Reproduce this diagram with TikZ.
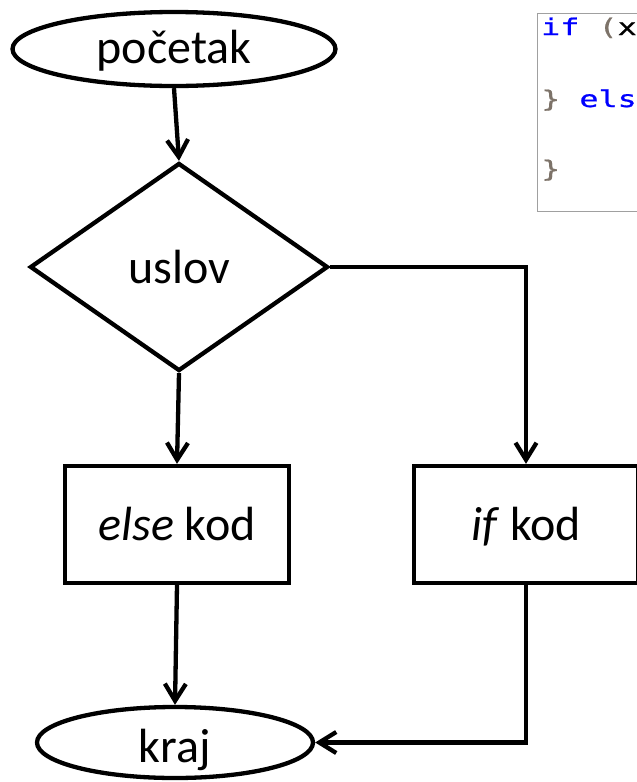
\documentclass[tikz,border=0pt]{standalone}
\usepackage{fontspec}
\setmainfont{Carlito}
\newfontfamily\codefont[FakeStretch=1.38,FakeBold=0.8]{DejaVu Sans Mono}
\usetikzlibrary{shapes.geometric,arrows.meta}
\definecolor{kwblue}{RGB}{0,0,255}
\definecolor{punct}{RGB}{125,115,105}
\definecolor{framegray}{RGB}{160,160,160}
\begin{document}
\begin{tikzpicture}[x=1pt,y=-1pt,
  every node/.style={inner sep=0pt},
  flow/.style={line width=4.3pt,draw=black},
  termnode/.style={flow,ellipse,font=\fontsize{48}{58}\selectfont,text depth=0pt},
  decnode/.style={flow,diamond,font=\fontsize{48}{58}\selectfont,text depth=0pt},
  procnode/.style={flow,rectangle,font=\fontsize{48}{58}\selectfont,text depth=0pt,
    minimum width=224pt,minimum height=117pt},
  conn/.style={line width=4.3pt,-{Straight Barb[length=17pt,width=21pt]}},
  codetext/.style={anchor=base west,font=\codefont\fontsize{23}{28}\selectfont},
  codeframe/.style={draw=framegray,line width=1.2pt}
]
\useasboundingbox (0,0) rectangle (637,782);
\clip (0,0) rectangle (637,782);

% code snippet
\draw[codeframe] (537.5,13.5) rectangle (680,211.5);
\node[codetext] (c1) at (541,35) {\textcolor{kwblue}{if} \textcolor{punct}{(}x};
\node[codetext] (c2) at (541,107) {\textcolor{punct}{\}} \textcolor{kwblue}{els}};
\node[codetext] (c3) at (541,177) {\textcolor{punct}{\}}};

% flowchart
\node[termnode,minimum width=323pt,minimum height=74pt,text height=28pt] (pocetak) at (174,49) {početak};
\node[decnode,minimum width=298pt,minimum height=208pt,text height=32pt] (uslov) at (179,267) {uslov};
\node[procnode,text height=31pt] (elsebox) at (177,524.5) {\textit{else} kod};
\node[procnode,text height=31pt] (ifbox) at (526,524.5) {\textit{if} kod};
\node[termnode,minimum width=276pt,minimum height=71pt,text height=39pt] (kraj) at (175,742.5) {kraj};

\draw[conn] (pocetak.south) -- (uslov.north);
\draw[conn] (uslov.south) -- (elsebox.north);
\draw[conn] (elsebox.south) -- (kraj.north);
\draw[conn] (uslov.east) -| (ifbox.north);
\draw[conn] (ifbox.south) |- (kraj.east);
\end{tikzpicture}
\end{document}
